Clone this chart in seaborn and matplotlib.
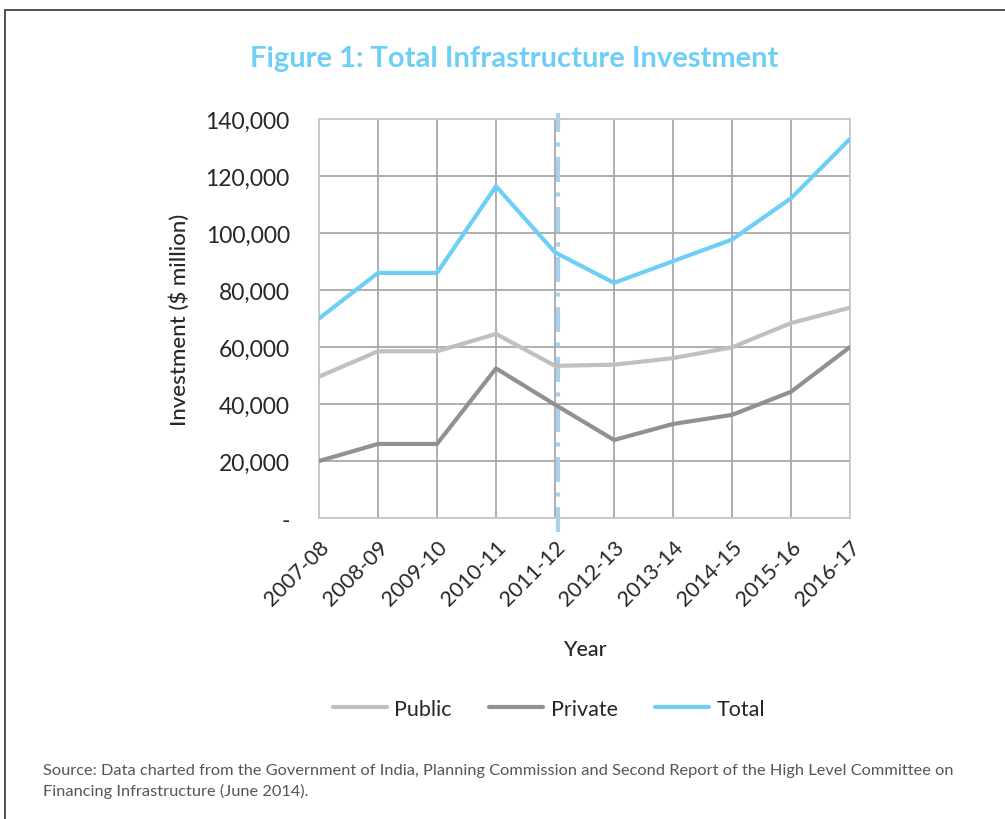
import pandas as pd
import numpy as np
import matplotlib.pyplot as plt
import seaborn as sns
from matplotlib.patches import Rectangle

# data ($ million)
years = ['2007-08', '2008-09', '2009-10', '2010-11', '2011-12',
         '2012-13', '2013-14', '2014-15', '2015-16', '2016-17']
public = [49600, 58500, 58500, 64600, 53400, 53800, 56100, 59900, 68400, 73800]
private = [20000, 26000, 26000, 52500, 39800, 27400, 33000, 36200, 44300, 60000]
total = [70000, 86000, 86000, 116400, 93200, 82500, 90100, 97700, 112200, 133000]
yticks = [0, 20000, 40000, 60000, 80000, 100000, 120000, 140000]
ytick_labels = ['-', '20,000', '40,000', '60,000', '80,000', '100,000', '120,000', '140,000']

df = pd.DataFrame({'Year': years, 'Public': public, 'Private': private, 'Total': total})
long_df = df.melt(id_vars='Year', var_name='Series', value_name='Investment')
long_df['x'] = long_df['Year'].map({y: i for i, y in enumerate(years)})

sns.set_theme(style='white')
plt.rcParams['font.family'] = ['Lato', 'DejaVu Sans']

fig = plt.figure(figsize=(10.05, 8.2), dpi=100)
ax = fig.add_axes([0.3174, 0.367, 0.5284, 0.4867])

palette = {'Public': '#c0c0c0', 'Private': '#919191', 'Total': '#6dcff6'}
sns.lineplot(data=long_df, x='x', y='Investment', hue='Series', palette=palette,
             linewidth=3, sort=False, ax=ax, zorder=3)

ax.set_xlim(0, len(years) - 1)
ax.set_ylim(0, 140000)
ax.set_xticks(range(len(years)))
ax.set_xticklabels(years, rotation=45, ha='right', rotation_mode='anchor', fontsize=15.5)
ax.set_yticks(yticks)
ax.set_yticklabels(ytick_labels, fontsize=16.5)
ax.tick_params(axis='both', length=8, width=1.3, color='#a8a8aa', direction='out')
ax.tick_params(axis='y', pad=13)
ax.tick_params(axis='x', pad=5)

ax.grid(True, color='#a8a8aa', linewidth=1.3, zorder=0)
for s in ax.spines.values():
    s.set_color('#c8c8c8')
    s.set_linewidth(1.3)

# boundary between actual and projected
ax.plot([4.05, 4.05], [-5000, 142000], color='#a9d1ec', linewidth=3,
        linestyle=(0, (6, 2.5, 1, 2.5)), clip_on=False, zorder=2)

ax.set_xlabel('Year', fontsize=15.5, fontweight='medium', labelpad=22)
ax.set_ylabel('Investment ($ million)', fontsize=16, fontweight='medium', labelpad=11)

ax.legend(loc='center', bbox_to_anchor=(0.433, -0.478), ncol=3, frameon=False,
          fontsize=15.5, handlelength=2.5, columnspacing=1.75, handletextpad=0.35)

fig.text(0.512, 0.928, 'Figure 1: Total Infrastructure Investment', ha='center', va='center',
         fontsize=21, fontweight='bold', color='#6dcff6')
fig.text(0.043, 0.047, 'Source: Data charted from the Government of India, Planning Commission and Second Report of the High Level Committee on\nFinancing Infrastructure (June 2014).',
         ha='left', va='center', fontsize=11.8, color='#555555', linespacing=1.5)

# frame around the figure
fig.patches.append(Rectangle((5 / 1005, -0.1), 1.2, 1.1 - 11 / 820, transform=fig.transFigure,
                             fill=False, edgecolor='#333333', linewidth=1.2))

plt.savefig('out.png', dpi=100)
